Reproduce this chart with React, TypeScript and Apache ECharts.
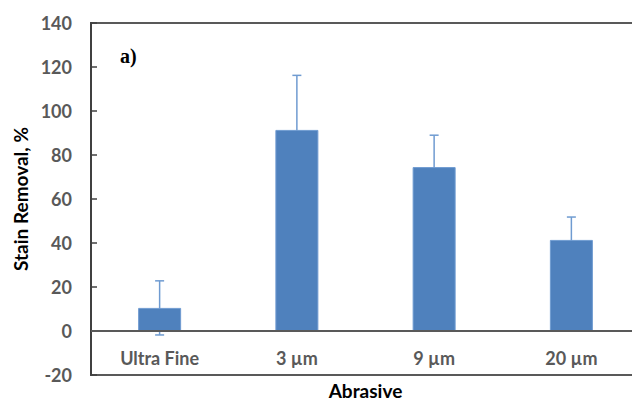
import React, { useEffect, useRef } from "react";
import * as echarts from "echarts";

const categories = ["Ultra Fine", "3 µm", "9 µm", "20 µm"];
const values = [10.5, 91.4, 74.5, 41.4];
const errors = [12.3, 24.8, 14.5, 10.4];
const yTicks = { min: -20, max: 140, interval: 20 };

export default function App() {
  const ref = useRef<HTMLDivElement>(null);
  useEffect(() => {
    const chart = echarts.init(ref.current!, null, { renderer: "svg" });
    const errData = values.map((v, i) => [i, v - errors[i], v + errors[i]]);
    chart.setOption({
      animation: false,
      backgroundColor: "#ffffff",
      grid: {
        left: 91,
        top: 23,
        width: 549,
        bottom: 28,
        outerBoundsMode: "none",
        containLabel: false,
        show: true,
        borderColor: "#595959",
        borderWidth: 2,
        backgroundColor: "transparent",
      },
      xAxis: {
        type: "category",
        data: categories,
        axisLine: { show: false, onZero: false },
        axisTick: { show: false },
        axisLabel: {
          margin: -26,
          color: "#595959",
          fontFamily: "Lato",
          fontWeight: "bold",
          fontSize: 18,
        },
        name: "Abrasive",
        nameLocation: "middle",
        nameGap: 6,
        nameTextStyle: { color: "#000", fontFamily: "Lato", fontWeight: "bold", fontSize: 19 },
      },
      yAxis: {
        type: "value",
        min: yTicks.min,
        max: yTicks.max,
        interval: yTicks.interval,
        splitLine: { show: false },
        axisLine: { show: true, lineStyle: { color: "#404040", width: 2 } },
        axisTick: { show: true, inside: true, length: 6, lineStyle: { color: "#404040", width: 1.5 } },
        axisLabel: {
          margin: 19,
          color: "#595959",
          fontFamily: "Lato",
          fontWeight: "bold",
          fontSize: 18,
        },
        name: "Stain Removal, %",
        nameLocation: "middle",
        nameGap: 56,
        nameTextStyle: { color: "#000", fontFamily: "Lato", fontWeight: "bold", fontSize: 19 },
      },
      graphic: [
        {
          type: "text",
          left: 120,
          top: 46,
          style: {
            text: "a)",
            fontFamily: "Liberation Serif",
            fontWeight: "bold",
            fontSize: 20,
            fill: "#000",
          },
        },
      ],
      series: [
        {
          type: "custom",
          z: 1,
          data: errData,
          renderItem: (params: any, api: any) => {
            const x = api.coord([api.value(0), 0])[0];
            const yLow = api.coord([api.value(0), api.value(1)])[1];
            const yHigh = api.coord([api.value(0), api.value(2)])[1];
            const hw = 4.5;
            const style = { stroke: "#6f9bd1", lineWidth: 1.5 };
            return {
              type: "group",
              children: [
                { type: "line", shape: { x1: x, y1: yLow, x2: x, y2: yHigh }, style },
                { type: "line", shape: { x1: x - hw, y1: yHigh, x2: x + hw, y2: yHigh }, style },
                { type: "line", shape: { x1: x - hw, y1: yLow, x2: x + hw, y2: yLow }, style },
              ],
            };
          },
        },
        {
          type: "bar",
          z: 2,
          data: values,
          barWidth: 43,
          itemStyle: { color: "#4f81bd", borderColor: "#6f9bd1", borderWidth: 1 },
          markLine: {
            silent: true,
            symbol: "none",
            label: { show: false },
            lineStyle: { color: "#595959", width: 2, type: "solid" },
            data: [{ yAxis: 0 }],
          },
        },
      ],
    });
    return () => chart.dispose();
  }, []);
  return <div ref={ref} style={{ width: 632, height: 403, position: "absolute", left: 0, top: 0 }} />;
}
